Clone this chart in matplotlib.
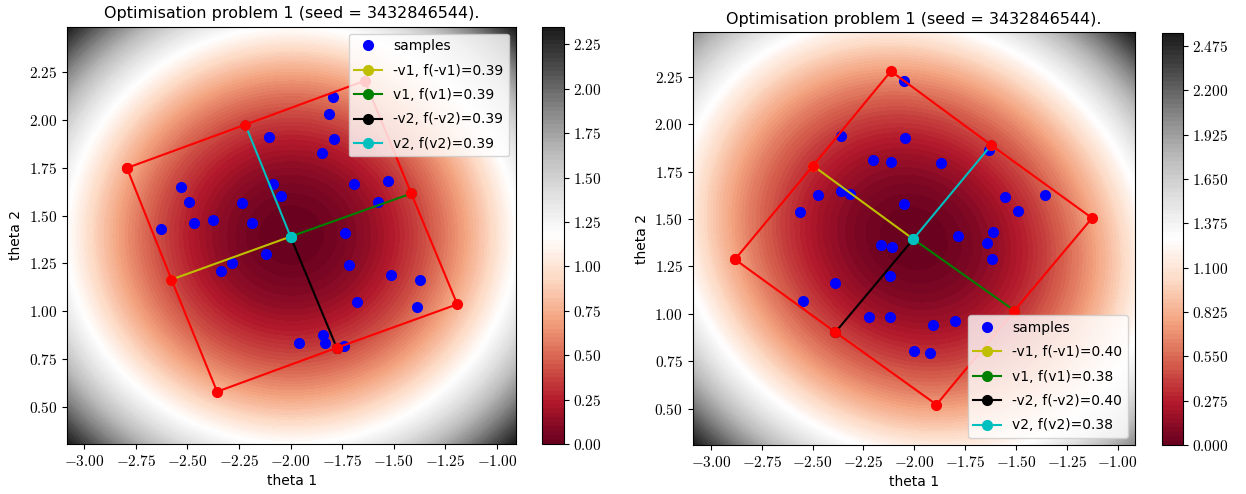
import numpy as np
import matplotlib
matplotlib.use("Agg")
import matplotlib.pyplot as plt
from matplotlib.ticker import FuncFormatter

plt.rcParams['mathtext.fontset'] = 'cm'
plt.rcParams['font.family'] = ['DejaVu Sans']

TITLE = "Optimisation problem 1 (seed = 3432846544)."

# ---- left panel ----
left_x_samples = [-2.531, -2.494, -2.469, -2.626, -2.377, -2.234, -2.186, -2.102, -2.086, -2.048,
                  -1.847, -1.814, -1.795, -1.789, -1.738, -1.692, -1.577, -1.529,
                  -2.119, -2.282, -2.337, -1.715, -1.513, -1.374, -1.680, -1.387,
                  -1.960, -1.841, -1.834, -1.741]
left_y_samples = [1.650, 1.571, 1.462, 1.430, 1.479, 1.563, 1.462, 1.910, 1.666, 1.601,
                  1.826, 2.032, 2.116, 1.898, 1.409, 1.662, 1.568, 1.680,
                  1.300, 1.252, 1.210, 1.241, 1.188, 1.163, 1.047, 1.023,
                  0.836, 0.878, 0.834, 0.821]
left_center = (-2.000, 1.390)
# endpoints of -v1, v1, -v2, v2
left_ends = [(-2.577, 1.166), (-1.415, 1.615), (-1.776, 0.810), (-2.219, 1.974)]
# box outline: corners and mid-edge points in drawing order
left_box_x = [-2.793, -2.219, -1.640, -1.415, -1.192, -1.776, -2.356, -2.577, -2.793]
left_box_y = [1.748, 1.974, 2.203, 1.615, 1.037, 0.810, 0.581, 1.166, 1.748]
left_fvals = ["0.39", "0.39", "0.39", "0.39"]
left_xlim = (-3.082, -0.908)
left_ylim = (0.308, 2.485)
left_field_center = (-1.995, 1.397)
left_field_coef = (0.99, 0.99)
left_level_step = 0.025
left_level_top = 2.35
left_cbar_ticks = [0.0, 0.25, 0.5, 0.75, 1.0, 1.25, 1.5, 1.75, 2.0, 2.25]

# ---- right panel ----
right_x_samples = [-2.052, -2.362, -2.046, -2.205, -2.117, -1.869, -1.634, -2.472, -2.362, -2.315,
                   -2.564, -2.052, -1.553, -1.489, -1.355, -1.787, -1.612, -1.642, -2.166, -2.111,
                   -1.618, -2.121, -2.390, -2.549, -2.221, -2.121, -1.907, -1.799, -2.001, -1.924]
right_y_samples = [2.227, 1.938, 1.925, 1.814, 1.800, 1.795, 1.864, 1.625, 1.647, 1.632,
                   1.537, 1.580, 1.615, 1.542, 1.625, 1.412, 1.431, 1.373, 1.364, 1.352,
                   1.287, 1.202, 1.165, 1.070, 0.982, 0.984, 0.941, 0.964, 0.805, 0.793]
right_center = (-2.005, 1.394)
right_ends = [(-2.498, 1.781), (-1.508, 1.017), (-2.388, 0.903), (-1.622, 1.890)]
right_box_x = [-2.882, -2.498, -2.115, -1.622, -1.126, -1.508, -1.891, -2.388, -2.882]
right_box_y = [1.287, 1.781, 2.280, 1.890, 1.505, 1.017, 0.521, 0.903, 1.287]
right_fvals = ["0.40", "0.38", "0.40", "0.38"]
right_xlim = (-3.090, -0.915)
right_ylim = (0.308, 2.485)
right_field_center = (-2.003, 1.397)
right_field_coef = (1.08, 0.85)  # along (1,1) and (-1,1) directions
right_level_step = 0.0275
right_level_top = 2.5575
right_cbar_ticks = [0.0, 0.275, 0.55, 0.825, 1.1, 1.375, 1.65, 1.925, 2.2, 2.475]

vec_names = ["-v1", "v1", "-v2", "v2"]
vec_colors = ["y", "g", "k", "c"]

fmt2 = FuncFormatter(lambda v, p: r"$%.2f$" % v)


def field(xlim, ylim, c, coef):
    x = np.linspace(xlim[0], xlim[1], 300)
    y = np.linspace(ylim[0], ylim[1], 300)
    X, Y = np.meshgrid(x, y)
    dx, dy = X - c[0], Y - c[1]
    u = (dx + dy) / np.sqrt(2)
    w = (dy - dx) / np.sqrt(2)
    return X, Y, coef[0] * u ** 2 + coef[1] * w ** 2


def panel(ax, cax, xs, ys, center, ends, bx, by, fvals, xlim, ylim, fc, coef,
          step, top, cticks, cfmt, legend_loc):
    X, Y, Z = field(xlim, ylim, fc, coef)
    levels = np.arange(0, top + step / 2, step)
    Z = np.clip(Z, 0, top - 1e-6)
    cs = ax.contourf(X, Y, Z, levels=levels, cmap="RdGy")
    ax.plot(xs, ys, "bo", linestyle="none", markersize=7, label="samples")
    for (ex, ey), name, col, fv in zip(ends, vec_names, vec_colors, fvals):
        ax.plot([center[0], ex], [center[1], ey], "-o", color=col, markersize=7,
                label="%s, f(%s)=%s" % (name, name, fv))
    ax.plot(bx, by, "r-o", markersize=7)
    ax.plot([center[0]], [center[1]], "co", markersize=7)
    ax.set_xlim(xlim)
    ax.set_ylim(ylim)
    ax.set_xticks([-3.0, -2.75, -2.5, -2.25, -2.0, -1.75, -1.5, -1.25, -1.0])
    ax.set_yticks([0.5, 0.75, 1.0, 1.25, 1.5, 1.75, 2.0, 2.25])
    ax.xaxis.set_major_formatter(fmt2)
    ax.yaxis.set_major_formatter(fmt2)
    ax.tick_params(labelsize=11)
    ax.set_xlabel("theta 1", fontsize=10)
    ax.set_ylabel("theta 2", fontsize=10)
    ax.set_title(TITLE, fontsize=11.5)
    ax.legend(loc=legend_loc, fontsize=10, labelspacing=0.75)
    cb = plt.colorbar(cs, cax=cax)
    cb.set_ticks(cticks)
    cb.ax.yaxis.set_major_formatter(cfmt)
    cb.ax.tick_params(labelsize=11)


fig = plt.figure(figsize=(12.46, 4.94), dpi=100)
ax1 = fig.add_axes([0.054, 0.1012, 0.360, 0.8447])
cax1 = fig.add_axes([0.4352, 0.1012, 0.0172, 0.8447])
ax2 = fig.add_axes([0.5559, 0.0992, 0.355, 0.8354])
cax2 = fig.add_axes([0.9323, 0.0992, 0.0169, 0.8346])

panel(ax1, cax1, left_x_samples, left_y_samples, left_center, left_ends, left_box_x, left_box_y,
      left_fvals, left_xlim, left_ylim, left_field_center, left_field_coef,
      left_level_step, left_level_top, left_cbar_ticks, fmt2, "upper right")
panel(ax2, cax2, right_x_samples, right_y_samples, right_center, right_ends, right_box_x, right_box_y,
      right_fvals, right_xlim, right_ylim, right_field_center, right_field_coef,
      right_level_step, right_level_top, right_cbar_ticks,
      FuncFormatter(lambda v, p: r"$%.3f$" % v), "lower right")

fig.savefig("out.png", dpi=100)
